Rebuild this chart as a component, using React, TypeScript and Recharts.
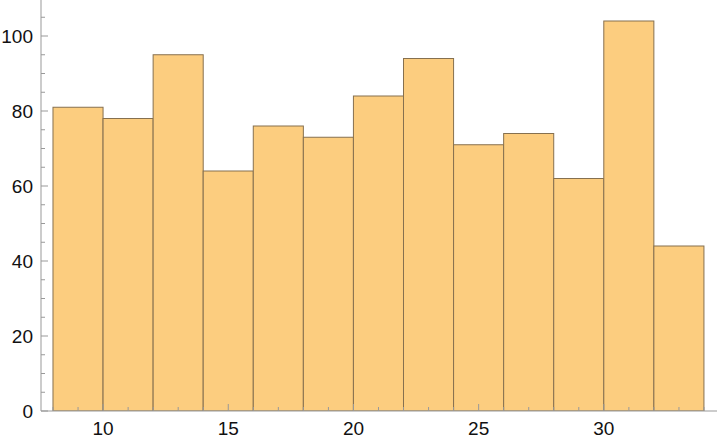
import { Bar, BarChart, XAxis, YAxis } from "recharts";

const binStarts = [8, 10, 12, 14, 16, 18, 20, 22, 24, 26, 28, 30, 32];
const binWidth = 2;
const counts = [81, 78, 95, 64, 76, 73, 84, 94, 71, 74, 62, 104, 44];

const xTicks = Array.from({ length: 27 }, (_, i) => 8 + i);
const yTicks = Array.from({ length: 22 }, (_, i) => i * 5);

const data = binStarts.map((s, i) => ({ x: s + binWidth / 2, count: counts[i] }));

const W = 720;
const H = 446;
const margin = { top: 0, right: 3, bottom: 0, left: 0 };
const yAxisWidth = 41;
const xDomain: [number, number] = [7.52, 34.52];
const plotWidth = W - margin.left - margin.right - yAxisWidth;
const binPx = (binWidth * plotWidth) / (xDomain[1] - xDomain[0]);

const axisColor = "#999999";
const font = "'Liberation Sans', Arial, sans-serif";

function XTick(props: any) {
  const { x, y, payload } = props;
  const major = payload.value % 5 === 0;
  const axisY = y - 11;
  return (
    <g>
      <line x1={x} x2={x} y1={axisY} y2={axisY - (major ? 7 : 4)} stroke={axisColor} />
      {major && (
        <text x={x} y={y} dy="0.71em" textAnchor="middle" fill="#111" fontSize={19} fontFamily={font}>
          {payload.value}
        </text>
      )}
    </g>
  );
}

function YTick(props: any) {
  const { x, y, payload } = props;
  const major = payload.value % 20 === 0;
  const axisX = x + 8;
  return (
    <g>
      <line x1={axisX} x2={axisX + (major ? 7 : 4)} y1={y} y2={y} stroke={axisColor} />
      {major && (
        <text x={x} y={y} dy="0.355em" textAnchor="end" fill="#111" fontSize={19} fontFamily={font}>
          {payload.value}
        </text>
      )}
    </g>
  );
}

// histogram bin: keep recharts' centre and height, span the full bin width
function BinShape(props: any) {
  const { x, y, width, height } = props;
  const cx = x + width / 2;
  return (
    <rect
      x={cx - binPx / 2}
      y={y}
      width={binPx}
      height={height}
      fill="#FCCD7F"
      stroke="#86704f"
      strokeWidth={1}
    />
  );
}

export default function App() {
  return (
    <div style={{ position: "absolute", left: 0, top: 0, width: W, height: H, background: "#fff" }}>
      <BarChart width={W} height={H} data={data} margin={margin} barCategoryGap={0}>
        <XAxis
          dataKey="x"
          type="number"
          domain={xDomain}
          ticks={xTicks}
          interval={0}
          allowDataOverflow
          height={35}
          tickSize={0}
          tickMargin={11}
          tickLine={false}
          axisLine={{ stroke: axisColor }}
          tick={<XTick />}
        />
        <YAxis
          type="number"
          domain={[0, 109.6]}
          ticks={yTicks}
          interval={0}
          allowDataOverflow
          width={yAxisWidth}
          tickSize={0}
          tickMargin={8}
          tickLine={false}
          axisLine={{ stroke: axisColor }}
          tick={<YTick />}
        />
        <Bar dataKey="count" shape={<BinShape />} isAnimationActive={false} />
      </BarChart>
    </div>
  );
}
